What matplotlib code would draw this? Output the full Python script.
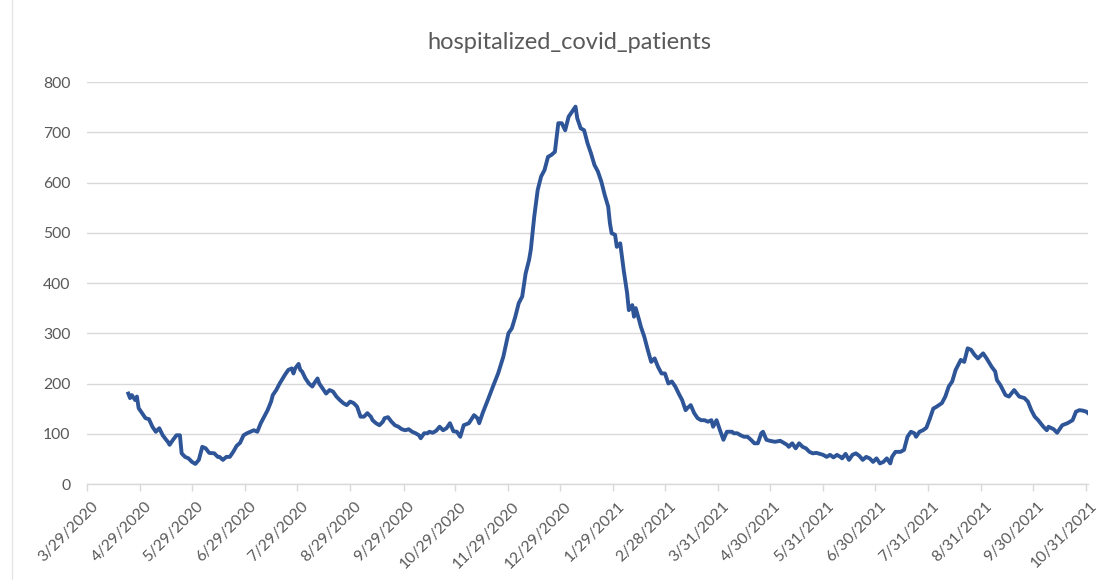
import numpy as np
import matplotlib
matplotlib.use('Agg')
import matplotlib.pyplot as plt
import matplotlib.transforms as mtransforms
from matplotlib.lines import Line2D

plt.rcParams['font.family'] = ['Lato', 'DejaVu Sans']

# Data: days since 3/29/2020 and hospitalized patients
start_date = np.datetime64('2020-03-29')
day_offset = [
    24, 25, 26, 28, 29, 30, 32, 34, 36, 38, 40, 42, 44, 46, 47, 48, 50, 52, 54, 55,
    57, 59, 61, 63, 65, 67, 69, 71, 74, 76, 77, 79, 81, 83, 85, 87, 89, 91, 93, 95,
    97, 99, 101, 103, 105, 107, 108, 110, 112, 115, 117, 119, 120, 121, 123, 124, 125, 127, 129, 131,
    132, 134, 135, 137, 139, 141, 143, 145, 147, 149, 151, 153, 155, 157, 159, 161, 163, 165, 166, 168,
    170, 172, 173, 175, 177, 179, 181, 183, 185, 187, 189, 191, 193, 194, 196, 198, 199, 201, 203, 205,
    207, 209, 211, 213, 215, 217, 219, 222, 225, 227, 228, 230, 233, 236, 239, 242, 245, 247, 249, 251,
    253, 255, 257, 258, 260, 262, 264, 266, 268, 270, 272, 274, 276, 278, 280, 282, 284, 285, 287, 289,
    291, 293, 295, 297, 299, 301, 303, 304, 305, 307, 308, 310, 312, 314, 315, 317, 318, 319, 321, 322,
    324, 326, 328, 330, 332, 334, 336, 338, 340, 342, 344, 346, 348, 349, 351, 353, 355, 357, 359, 361,
    363, 364, 366, 368, 370, 372, 375, 376, 378, 380, 382, 384, 386, 388, 390, 392, 393, 395, 397, 400,
    403, 405, 407, 408, 410, 412, 414, 416, 418, 420, 422, 424, 426, 428, 430, 432, 434, 436, 438, 439,
    441, 443, 445, 447, 449, 451, 453, 455, 457, 459, 461, 463, 465, 467, 468, 470, 473, 475, 477, 479,
    481, 482, 484, 486, 488, 490, 492, 494, 497, 499, 501, 503, 505, 508, 510, 512, 514, 516, 518, 521,
    523, 526, 528, 529, 531, 534, 536, 539, 542, 545, 547, 549, 551, 553, 556, 558, 559, 562, 564, 567,
    570, 573, 575, 577, 579, 581, 582,
]
patients = [
    180, 171, 177, 167, 174, 151, 141, 131, 129, 114, 104, 111, 97, 88, 84, 78, 88, 97, 97, 61,
    54, 51, 44, 40, 48, 74, 71, 62, 61, 54, 54, 48, 54, 54, 64, 76, 82, 97, 101, 104,
    107, 104, 121, 134, 147, 164, 177, 187, 200, 217, 227, 230, 220, 230, 239, 227, 224, 210, 200, 194,
    200, 210, 200, 190, 180, 187, 184, 174, 167, 161, 157, 164, 161, 154, 134, 134, 141, 134, 127, 121,
    117, 124, 131, 133, 124, 117, 114, 109, 107, 109, 104, 101, 97, 91, 101, 101, 104, 102, 106, 114,
    107, 111, 121, 105, 104, 94, 117, 121, 137, 131, 121, 141, 167, 194, 220, 253, 300, 310, 333, 360,
    373, 419, 446, 466, 532, 585, 612, 625, 651, 655, 661, 718, 718, 704, 731, 741, 751, 728, 708, 704,
    678, 658, 635, 622, 602, 575, 552, 519, 499, 496, 472, 479, 426, 380, 346, 356, 333, 350, 326, 313,
    293, 267, 243, 250, 233, 220, 220, 200, 204, 194, 180, 167, 147, 151, 157, 141, 131, 127, 127, 124,
    127, 114, 127, 107, 88, 104, 104, 101, 101, 97, 94, 94, 88, 81, 81, 101, 104, 88, 86, 84,
    86, 82, 78, 74, 81, 71, 81, 74, 71, 64, 61, 62, 60, 58, 54, 58, 53, 58, 54, 51,
    60, 48, 58, 61, 56, 48, 54, 51, 44, 51, 41, 44, 51, 41, 54, 64, 64, 68, 94, 104,
    101, 94, 104, 107, 112, 130, 150, 154, 161, 174, 194, 204, 227, 247, 243, 270, 267, 257, 250, 260,
    250, 233, 224, 207, 197, 177, 174, 187, 174, 171, 164, 147, 134, 127, 114, 107, 114, 109, 102, 117,
    121, 127, 144, 147, 146, 144, 141,
]

tick_dates = [
    '2020-03-29', '2020-04-29', '2020-05-29', '2020-06-29', '2020-07-29', '2020-08-29',
    '2020-09-29', '2020-10-29', '2020-11-29', '2020-12-29', '2021-01-29', '2021-02-28',
    '2021-03-31', '2021-04-30', '2021-05-31', '2021-06-30', '2021-07-31', '2021-08-31',
    '2021-09-30', '2021-10-31',
]
tick_labels = [
    '3/29/2020', '4/29/2020', '5/29/2020', '6/29/2020', '7/29/2020', '8/29/2020',
    '9/29/2020', '10/29/2020', '11/29/2020', '12/29/2020', '1/29/2021', '2/28/2021',
    '3/31/2021', '4/30/2021', '5/31/2021', '6/30/2021', '7/31/2021', '8/31/2021',
    '9/30/2021', '10/31/2021',
]
y_ticks = [0, 100, 200, 300, 400, 500, 600, 700, 800]

dates = start_date + np.array(day_offset).astype('timedelta64[D]')
tick_pos = np.array(tick_dates, dtype='datetime64[D]')

text_gray = '#595959'
grid_gray = '#D9D9D9'
line_blue = '#2E5597'

fig = plt.figure(figsize=(11.13, 5.8), dpi=100)
ax = fig.add_axes([0.0782, 0.1655, 0.8994, 0.6931])

ax.plot(dates, patients, color=line_blue, linewidth=2.8, solid_joinstyle='round')

ax.set_xlim(start_date, np.datetime64('2021-11-01'))
ax.set_ylim(0, 800)
ax.set_yticks(y_ticks)
ax.set_yticklabels([str(v) for v in y_ticks])
ax.set_xticks(tick_pos)
ax.set_xticklabels(tick_labels, rotation=45, ha='right', va='top', rotation_mode='anchor')

ax.grid(True, axis='y', color=grid_gray, linewidth=1.0)
ax.set_axisbelow(True)
for side in ['top', 'right', 'left']:
    ax.spines[side].set_visible(False)
ax.spines['bottom'].set_color(grid_gray)
ax.spines['bottom'].set_linewidth(1.0)
ax.tick_params(axis='y', length=0, pad=12, labelsize=11.3, labelcolor=text_gray)
ax.tick_params(axis='x', length=5, width=1.0, color=grid_gray, direction='out',
               pad=6, labelsize=11.3, labelcolor=text_gray)

# shift x labels a bit to the right, like Excel places them
offset = mtransforms.ScaledTranslation(4 / 100, 0, fig.dpi_scale_trans)
for lbl in ax.get_xticklabels():
    lbl.set_transform(lbl.get_transform() + offset)

fig.text(0.512, 0.927, 'hospitalized_covid_patients', ha='center', va='center',
         fontsize=17, color=text_gray)

# faint border of the neighbouring sheet area on the left
fig.add_artist(Line2D([12 / 1113, 12 / 1113], [0.0, 1.0], color='#E6E6E6', linewidth=1.0))

fig.savefig('out.png', dpi=100)
